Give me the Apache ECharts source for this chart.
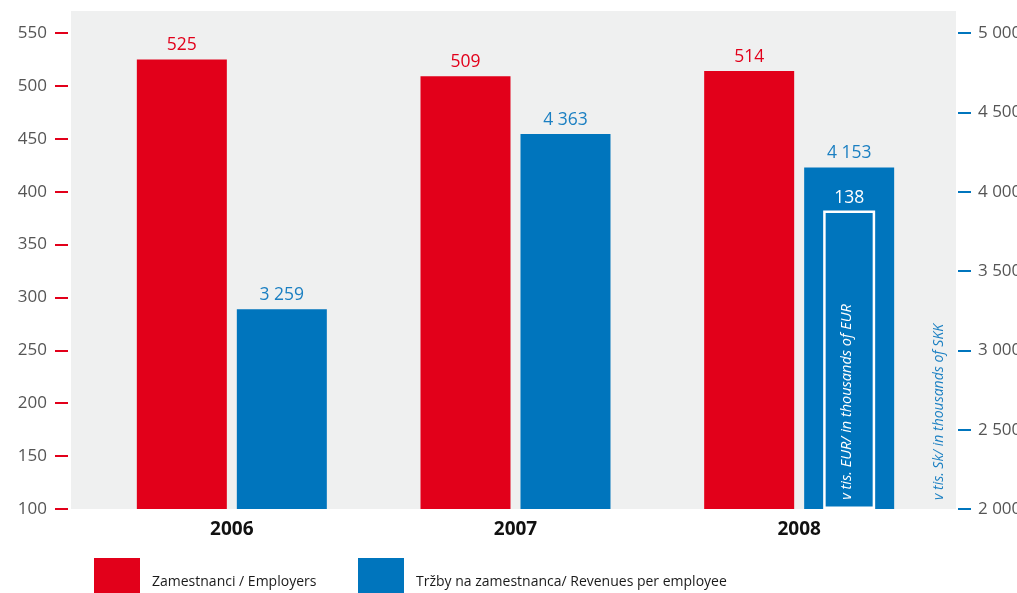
<!DOCTYPE html>
<html>
<head>
<meta charset="utf-8">
<script src="https://cdn.jsdelivr.net/npm/echarts@6/dist/echarts.min.js"></script>
<style>
  html, body { margin: 0; padding: 0; background: #fff; }
  #chart { width: 1017px; height: 593px; }
</style>
</head>
<body>
<div id="chart"></div>
<script>
// Employees and revenue per employee, 2006–2008
const years = ['2006', '2007', '2008'];
const employees = [525, 509, 514];            // headcount
const revenueSkk = [3259, 4363, 4153];        // thousands of SKK per employee
const revenueEur = ['-', '-', 138];           // thousands of EUR per employee
const emptySlot = ['-', '-', '-'];            // keeps the EUR bar aligned with the SKK bar

const employeesAxis = { min: 100, max: 550, interval: 50 };
const skkAxis = { min: 2000, max: 5000, interval: 500 };
const eurAxis = { min: 0, max: 220 };

const nameEmployees = 'Zamestnanci / Employers';
const nameRevenue = 'Tržby na zamestnanca/ Revenues per employee';
const unitEur = 'v tis. EUR/ in thousands of EUR';
const unitSkk = 'v tis. Sk/ in thousands of SKK';

const RED = '#e2001a';
const BLUE = '#0075bd';
const BLUE_TEXT = '#1a7fc2';
const FONT = '"Open Sans", "Noto Sans", sans-serif';

const spaced = v => String(v).replace(/\B(?=(\d{3})+(?!\d))/g, ' ');

const chart = echarts.init(document.getElementById('chart'));

chart.setOption({
  animation: false,
  textStyle: { fontFamily: FONT },
  grid: { left: 90, right: 76, top: 33, bottom: 84, outerBoundsMode: 'none', containLabel: false },
  graphic: [
    {
      type: 'rect', z: -10, silent: true,
      shape: { x: 71, y: 11, width: 885, height: 498 },
      style: { fill: '#eff0f0' }
    },
    {
      type: 'text', z: 100, silent: true,
      x: 847, y: 402, rotation: Math.PI / 2,
      style: {
        text: unitEur, fill: '#fff', font: 'italic 14.5px ' + FONT,
        align: 'center', verticalAlign: 'middle'
      }
    },
    {
      type: 'text', z: 100, silent: true,
      x: 939, y: 412, rotation: Math.PI / 2,
      style: {
        text: unitSkk, fill: BLUE_TEXT, font: 'italic 14px ' + FONT,
        align: 'center', verticalAlign: 'middle'
      }
    }
  ],
  legend: [
    {
      data: [nameEmployees], left: 94, top: 558, padding: 0,
      itemWidth: 46, itemHeight: 48, icon: 'rect',
      textStyle: { fontSize: 14, color: '#1a1a1a', fontFamily: FONT, padding: [0, 0, 0, 7] }
    },
    {
      data: [nameRevenue], left: 358, top: 558, padding: 0,
      itemWidth: 46, itemHeight: 48, icon: 'rect',
      textStyle: { fontSize: 14, color: '#1a1a1a', fontFamily: FONT, padding: [0, 0, 0, 7] }
    }
  ],
  xAxis: [
    {
      type: 'category', data: years,
      axisLine: { show: false }, axisTick: { show: false },
      axisLabel: { fontSize: 19, fontWeight: 'bold', color: '#111', margin: 11, fontFamily: FONT }
    },
    { type: 'category', data: years, show: false }
  ],
  yAxis: [
    {
      type: 'value', position: 'left', offset: 22,
      min: employeesAxis.min, max: employeesAxis.max, interval: employeesAxis.interval,
      axisLine: { show: false },
      axisTick: { show: true, length: 13, lineStyle: { color: RED, width: 2 } },
      splitLine: { show: false },
      axisLabel: { fontSize: 17, color: '#555', margin: 21, fontFamily: FONT }
    },
    {
      type: 'value', position: 'right', offset: 17,
      min: skkAxis.min, max: skkAxis.max, interval: skkAxis.interval,
      axisLine: { show: false },
      axisTick: { show: true, length: 13, lineStyle: { color: BLUE, width: 2 } },
      splitLine: { show: false },
      axisLabel: { fontSize: 17, color: '#555', margin: 20, fontFamily: FONT, formatter: spaced }
    },
    { type: 'value', min: eurAxis.min, max: eurAxis.max, show: false, splitLine: { show: false } }
  ],
  series: [
    {
      name: nameEmployees, type: 'bar', xAxisIndex: 0, yAxisIndex: 0,
      data: employees, barWidth: 90, barGap: '11.1%',
      itemStyle: { color: RED },
      label: { show: true, position: 'top', distance: 5, color: RED, fontSize: 17.5, fontFamily: FONT }
    },
    {
      name: nameRevenue, type: 'bar', xAxisIndex: 0, yAxisIndex: 1,
      data: revenueSkk, barWidth: 90,
      itemStyle: { color: BLUE },
      label: {
        show: true, position: 'top', distance: 5, color: BLUE_TEXT, fontSize: 17.5, fontFamily: FONT,
        formatter: p => spaced(p.value)
      }
    },
    {
      type: 'bar', xAxisIndex: 1, yAxisIndex: 2, silent: true,
      data: emptySlot, barWidth: 90, barGap: '11.1%'
    },
    {
      type: 'bar', xAxisIndex: 1, yAxisIndex: 2, silent: true, z: 5,
      data: revenueEur, barWidth: 52,
      itemStyle: { color: 'rgba(0,0,0,0)', borderColor: '#fff', borderWidth: 2.5 },
      label: { show: true, position: 'top', distance: 3, color: '#fff', fontSize: 17.5, fontFamily: FONT }
    }
  ]
});
</script>
</body>
</html>
